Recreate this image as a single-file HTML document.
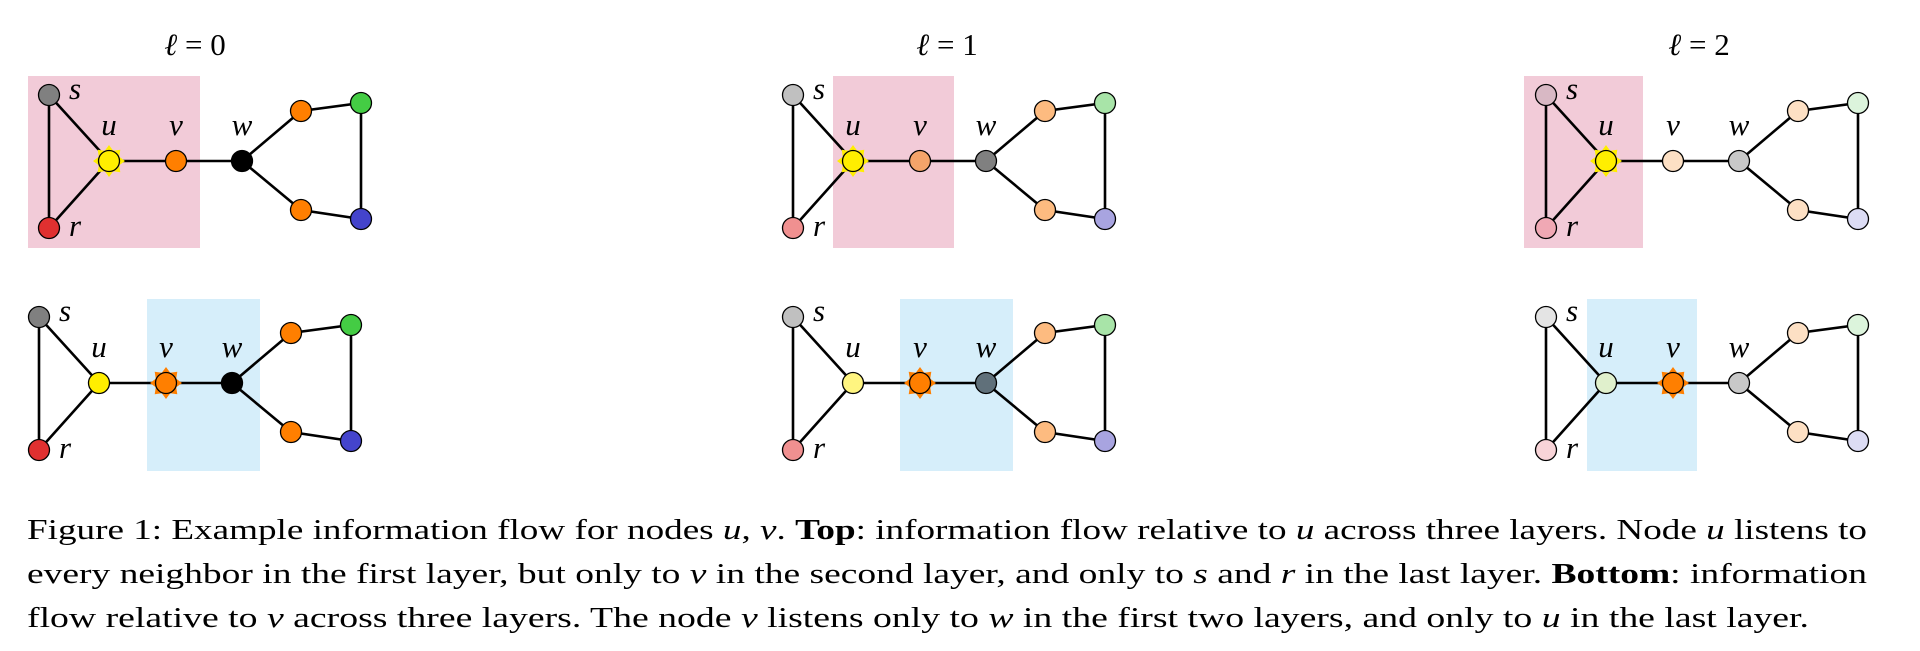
<!DOCTYPE html>
<html><head><meta charset="utf-8"><style>
html,body{margin:0;padding:0;background:#fff;}
svg{display:block;}
.lbl{font-family:"Liberation Serif",serif;font-style:italic;font-size:31px;fill:#000;}
.ttl{font-family:"Liberation Serif",serif;font-size:31px;fill:#000;}
.cap{font-family:"Liberation Serif",serif;font-size:29px;fill:#000;}
</style></head><body>
<svg width="1920" height="651" viewBox="0 0 1920 651" xmlns="http://www.w3.org/2000/svg">
<defs>
<path id="edges" d="M0,0 L60,66 M0,0 L0,133 M0,133 L60,66 M60,66 L193,66 M193,66 L252,16 L312,8 L312,124 L252,115 L193,66" fill="none" stroke="#000" stroke-width="2.6"/>
<polygon id="star" points="16,0 10.2,4.2 11.3,11.3 4.2,10.2 0,16 -4.2,10.2 -11.3,11.3 -10.2,4.2 -16,0 -10.2,-4.2 -11.3,-11.3 -4.2,-10.2 0,-16 4.2,-10.2 11.3,-11.3 10.2,-4.2"/>
<g id="labels">
<text class="lbl" x="20" y="4">s</text>
<text class="lbl" x="60" y="40" text-anchor="middle">u</text>
<text class="lbl" x="127" y="40" text-anchor="middle">v</text>
<text class="lbl" x="193" y="40" text-anchor="middle">w</text>
<text class="lbl" x="20" y="141">r</text>
</g>
</defs>

<!-- backgrounds -->
<rect x="28" y="76" width="172" height="172" fill="#f2cbd8"/>
<rect x="147" y="299" width="113" height="172" fill="#d6eefa"/>
<rect x="833" y="76" width="121" height="172" fill="#f2cbd8"/>
<rect x="900" y="299" width="113" height="172" fill="#d6eefa"/>
<rect x="1524" y="76" width="119" height="172" fill="#f2cbd8"/>
<rect x="1587" y="299" width="110" height="172" fill="#d6eefa"/>

<!-- titles -->
<text class="ttl" x="195" y="55" text-anchor="middle"><tspan font-style="italic">ℓ</tspan> = 0</text>
<text class="ttl" x="947" y="55" text-anchor="middle"><tspan font-style="italic">ℓ</tspan> = 1</text>
<text class="ttl" x="1699" y="55" text-anchor="middle"><tspan font-style="italic">ℓ</tspan> = 2</text>

<g stroke="#000" stroke-width="1.3">
<!-- P1 top -->
<g transform="translate(49,95)">
<use href="#edges"/>
<use href="#star" x="60" y="66" fill="#ffee00" stroke="none"/>
<circle cx="0" cy="0" r="10.5" fill="#808080"/>
<circle cx="60" cy="66" r="10.5" fill="#ffee00"/>
<circle cx="127" cy="66" r="10.5" fill="#ff7f00"/>
<circle cx="193" cy="66" r="10.5" fill="#000"/>
<circle cx="252" cy="16" r="10.5" fill="#ff7f00"/>
<circle cx="312" cy="8" r="10.5" fill="#44cc44"/>
<circle cx="252" cy="115" r="10.5" fill="#ff7f00"/>
<circle cx="312" cy="124" r="10.5" fill="#4444cc"/>
<circle cx="0" cy="133" r="10.5" fill="#e03030"/>
<use href="#labels" stroke="none"/>
</g>
<!-- P1 bottom -->
<g transform="translate(39,317)">
<use href="#edges"/>
<use href="#star" x="127" y="66" fill="#ff7f00" stroke="none"/>
<circle cx="0" cy="0" r="10.5" fill="#808080"/>
<circle cx="60" cy="66" r="10.5" fill="#ffee00"/>
<circle cx="127" cy="66" r="10.5" fill="#ff7f00"/>
<circle cx="193" cy="66" r="10.5" fill="#000"/>
<circle cx="252" cy="16" r="10.5" fill="#ff7f00"/>
<circle cx="312" cy="8" r="10.5" fill="#44cc44"/>
<circle cx="252" cy="115" r="10.5" fill="#ff7f00"/>
<circle cx="312" cy="124" r="10.5" fill="#4444cc"/>
<circle cx="0" cy="133" r="10.5" fill="#e03030"/>
<use href="#labels" stroke="none"/>
</g>
<!-- P2 top -->
<g transform="translate(793,95)">
<use href="#edges"/>
<use href="#star" x="60" y="66" fill="#ffee00" stroke="none"/>
<circle cx="0" cy="0" r="10.5" fill="#c0c0c0"/>
<circle cx="60" cy="66" r="10.5" fill="#ffee00"/>
<circle cx="127" cy="66" r="10.5" fill="#f4a46a"/>
<circle cx="193" cy="66" r="10.5" fill="#808080"/>
<circle cx="252" cy="16" r="10.5" fill="#fdbb80"/>
<circle cx="312" cy="8" r="10.5" fill="#a8e4a8"/>
<circle cx="252" cy="115" r="10.5" fill="#fdbb80"/>
<circle cx="312" cy="124" r="10.5" fill="#a8a4e0"/>
<circle cx="0" cy="133" r="10.5" fill="#f09090"/>
<use href="#labels" stroke="none"/>
</g>
<!-- P2 bottom -->
<g transform="translate(793,317)">
<use href="#edges"/>
<use href="#star" x="127" y="66" fill="#ff7f00" stroke="none"/>
<circle cx="0" cy="0" r="10.5" fill="#c0c0c0"/>
<circle cx="60" cy="66" r="10.5" fill="#fff580"/>
<circle cx="127" cy="66" r="10.5" fill="#ff7f00"/>
<circle cx="193" cy="66" r="10.5" fill="#60707a"/>
<circle cx="252" cy="16" r="10.5" fill="#fdbb80"/>
<circle cx="312" cy="8" r="10.5" fill="#a8e4a8"/>
<circle cx="252" cy="115" r="10.5" fill="#fdbb80"/>
<circle cx="312" cy="124" r="10.5" fill="#a8a4e0"/>
<circle cx="0" cy="133" r="10.5" fill="#f09090"/>
<use href="#labels" stroke="none"/>
</g>
<!-- P3 top -->
<g transform="translate(1546,95)">
<use href="#edges"/>
<use href="#star" x="60" y="66" fill="#ffee00" stroke="none"/>
<circle cx="0" cy="0" r="10.5" fill="#d8b8c4"/>
<circle cx="60" cy="66" r="10.5" fill="#ffee00"/>
<circle cx="127" cy="66" r="10.5" fill="#fde0c4"/>
<circle cx="193" cy="66" r="10.5" fill="#c8c8c8"/>
<circle cx="252" cy="16" r="10.5" fill="#fde0c4"/>
<circle cx="312" cy="8" r="10.5" fill="#dcf4dc"/>
<circle cx="252" cy="115" r="10.5" fill="#fde0c4"/>
<circle cx="312" cy="124" r="10.5" fill="#dcdcf4"/>
<circle cx="0" cy="133" r="10.5" fill="#f0a8b4"/>
<use href="#labels" stroke="none"/>
</g>
<!-- P3 bottom -->
<g transform="translate(1546,317)">
<use href="#edges"/>
<use href="#star" x="127" y="66" fill="#ff7f00" stroke="none"/>
<circle cx="0" cy="0" r="10.5" fill="#e4e4e4"/>
<circle cx="60" cy="66" r="10.5" fill="#e0f0cc"/>
<circle cx="127" cy="66" r="10.5" fill="#ff7f00"/>
<circle cx="193" cy="66" r="10.5" fill="#c8c8c8"/>
<circle cx="252" cy="16" r="10.5" fill="#fde0c4"/>
<circle cx="312" cy="8" r="10.5" fill="#dcf4dc"/>
<circle cx="252" cy="115" r="10.5" fill="#fde0c4"/>
<circle cx="312" cy="124" r="10.5" fill="#dcdcf4"/>
<circle cx="0" cy="133" r="10.5" fill="#f8d4d8"/>
<use href="#labels" stroke="none"/>
</g>
</g>

<!-- caption -->
<text class="cap" x="27" y="539" textLength="1840" lengthAdjust="spacingAndGlyphs">Figure 1: Example information flow for nodes <tspan font-style="italic">u</tspan>, <tspan font-style="italic">v</tspan>. <tspan font-weight="bold">Top</tspan>: information flow relative to <tspan font-style="italic">u</tspan> across three layers. Node <tspan font-style="italic">u</tspan> listens to</text>
<text class="cap" x="27" y="583" textLength="1840" lengthAdjust="spacingAndGlyphs">every neighbor in the first layer, but only to <tspan font-style="italic">v</tspan> in the second layer, and only to <tspan font-style="italic">s</tspan> and <tspan font-style="italic">r</tspan> in the last layer. <tspan font-weight="bold">Bottom</tspan>: information</text>
<text class="cap" x="27" y="627" textLength="1782" lengthAdjust="spacingAndGlyphs">flow relative to <tspan font-style="italic">v</tspan> across three layers. The node <tspan font-style="italic">v</tspan> listens only to <tspan font-style="italic">w</tspan> in the first two layers, and only to <tspan font-style="italic">u</tspan> in the last layer.</text>
</svg>
</body></html>
